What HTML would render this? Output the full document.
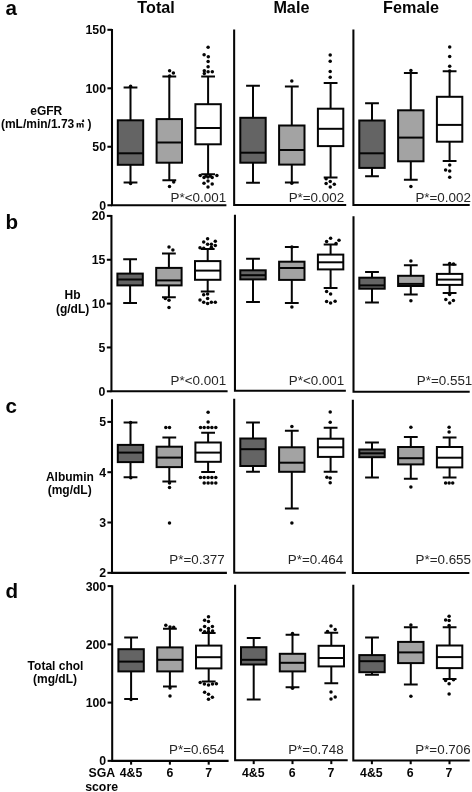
<!DOCTYPE html>
<html lang="en"><head><meta charset="utf-8"><title>Figure</title>
<style>html,body{margin:0;padding:0;background:#fff}body{width:472px;height:792px;overflow:hidden}svg{display:block}</style>
</head><body>
<svg width="472" height="792" viewBox="0 0 472 792">
<rect width="472" height="792" fill="#fff"/>
<g font-family="Liberation Sans, Arial, sans-serif" fill="#050505">
<text x="156.1" y="13.1" font-size="16.2" font-weight="bold" text-anchor="middle">Total</text>
<text x="291.4" y="13.1" font-size="16.2" font-weight="bold" text-anchor="middle">Male</text>
<text x="411" y="13.1" font-size="16.2" font-weight="bold" text-anchor="middle">Female</text>
<text x="5.4" y="14.6" font-size="20.6" font-weight="bold">a</text>
<text x="5.4" y="228.6" font-size="20.6" font-weight="bold">b</text>
<text x="5.4" y="413.3" font-size="20.6" font-weight="bold">c</text>
<text x="5.4" y="598.3" font-size="20.6" font-weight="bold">d</text>
</g>
<g stroke="#050505" stroke-width="2.05" fill="none" stroke-linecap="butt" stroke-linejoin="miter">
<path d="M112.0 28.9V205.25H226.4"/>
<path d="M234.15 29.4V205.05H346.2"/>
<path d="M353.4 29.4V205.0H469.7"/>
<path d="M107.40 29.8H112.0"/>
<path d="M107.40 88.3H112.0"/>
<path d="M107.40 146.75H112.0"/>
<path d="M107.40 205.25H112.0"/>
<path d="M111.45 215.0V391.3H227.6"/>
<path d="M234.95 214.7V390.7H345.85"/>
<path d="M353.5 216.2V391.7H469.7"/>
<path d="M106.85 215.9H111.45"/>
<path d="M106.85 259.75H111.45"/>
<path d="M106.85 303.6H111.45"/>
<path d="M106.85 347.45H111.45"/>
<path d="M106.85 391.3H111.45"/>
<path d="M112.0 399.3V572.85H226.9"/>
<path d="M234.2 398.8V572.7H345.85"/>
<path d="M352.85 399.7V572.9H469.3"/>
<path d="M107.40 421.9H112.0"/>
<path d="M107.40 472.2H112.0"/>
<path d="M107.40 522.5H112.0"/>
<path d="M107.40 572.85H112.0"/>
<path d="M112.2 585.2V760.85H228.6"/>
<path d="M235.1 584.7V760.3H347.7"/>
<path d="M353.3 584.8V760.4H469.7"/>
<path d="M107.60 586.1H112.2"/>
<path d="M107.60 644.35H112.2"/>
<path d="M107.60 702.6H112.2"/>
<path d="M107.60 760.85H112.2"/>
<path d="M131.1 760.85v3.8"/>
<path d="M169.9 760.85v3.8"/>
<path d="M208.7 760.85v3.8"/>
<path d="M253.7 760.3v3.8"/>
<path d="M292.5 760.3v3.8"/>
<path d="M331.3 760.3v3.8"/>
<path d="M371.9 760.4v3.8"/>
<path d="M410.7 760.4v3.8"/>
<path d="M449.5 760.4v3.8"/>
</g>
<g font-family="Liberation Sans, Arial, sans-serif" fill="#050505" font-size="12.3" font-weight="bold" text-anchor="end">
<text x="106.0" y="34.25">150</text>
<text x="106.0" y="92.75">100</text>
<text x="106.0" y="151.2">50</text>
<text x="106.0" y="209.7">0</text>
<text x="105.45" y="220.35">20</text>
<text x="105.45" y="264.2">15</text>
<text x="105.45" y="308.05">10</text>
<text x="105.45" y="351.9">5</text>
<text x="105.45" y="395.75">0</text>
<text x="106.0" y="426.34999999999997">5</text>
<text x="106.0" y="476.65">4</text>
<text x="106.0" y="526.95">3</text>
<text x="106.0" y="577.3000000000001">2</text>
<text x="106.2" y="590.5500000000001">300</text>
<text x="106.2" y="648.8000000000001">200</text>
<text x="106.2" y="707.0500000000001">100</text>
<text x="106.2" y="765.3000000000001">0</text>
</g>
<g font-family="Liberation Sans, Noto Sans CJK KR, Noto Sans CJK JP, Arial, sans-serif" fill="#050505" font-size="12.0" font-weight="bold" text-anchor="middle">
<text x="46.3" y="115.0">eGFR</text>
<text x="0.9" y="128.4" text-anchor="start">(mL/min/1.73</text><text x="75.9" y="127.30000000000001" font-size="8.3" font-weight="900" text-anchor="start">㎡</text><text x="87.4" y="128.4" text-anchor="start">)</text>
<text x="72.6" y="299.0">Hb</text>
<text x="72.6" y="313.0">(g/dL)</text>
<text x="69.9" y="481.2">Albumin</text>
<text x="69.7" y="493.9">(mg/dL)</text>
<text x="55.5" y="670.2">Total chol</text>
<text x="55.0" y="683.2">(mg/dL)</text>
</g>
<g stroke="#050505" stroke-width="2.0">
<path d="M130.5 87.6V120.3M130.5 164.8V182.4M123.6 87.6h13.8M123.6 182.4h13.8" fill="none"/>
<rect x="117.80" y="120.3" width="25.4" height="44.50" fill="#646464"/>
<path d="M117.80 153.3h25.4" fill="none"/>
<path d="M169.3 76.4V119.1M169.3 162.7V180.2M162.4 76.4h13.8M162.4 180.2h13.8" fill="none"/>
<rect x="156.60" y="119.1" width="25.4" height="43.60" fill="#a3a3a3"/>
<path d="M156.60 142.5h25.4" fill="none"/>
<path d="M208.1 76.4V104.2M208.1 144.3V174.3M201.2 76.4h13.8M201.2 174.3h13.8" fill="none"/>
<rect x="195.40" y="104.2" width="25.4" height="40.10" fill="#fff"/>
<path d="M195.40 128.0h25.4" fill="none"/>
<path d="M253.0 85.8V117.8M253.0 162.7V182.8M246.1 85.8h13.8M246.1 182.8h13.8" fill="none"/>
<rect x="240.30" y="117.8" width="25.4" height="44.90" fill="#646464"/>
<path d="M240.30 152.7h25.4" fill="none"/>
<path d="M291.8 86.6V125.5M291.8 164.6V182.5M284.90000000000003 86.6h13.8M284.90000000000003 182.5h13.8" fill="none"/>
<rect x="279.10" y="125.5" width="25.4" height="39.10" fill="#a3a3a3"/>
<path d="M279.10 150.0h25.4" fill="none"/>
<path d="M330.6 83.1V108.7M330.6 146.1V177.5M323.70000000000005 83.1h13.8M323.70000000000005 177.5h13.8" fill="none"/>
<rect x="317.90" y="108.7" width="25.4" height="37.40" fill="#fff"/>
<path d="M317.90 128.8h25.4" fill="none"/>
<path d="M372.0 103.2V120.5M372.0 167.9V176.2M365.1 103.2h13.8M365.1 176.2h13.8" fill="none"/>
<rect x="359.30" y="120.5" width="25.4" height="47.40" fill="#646464"/>
<path d="M359.30 153.3h25.4" fill="none"/>
<path d="M410.8 72.9V110.3M410.8 161.3V179.7M403.90000000000003 72.9h13.8M403.90000000000003 179.7h13.8" fill="none"/>
<rect x="398.10" y="110.3" width="25.4" height="51.00" fill="#a3a3a3"/>
<path d="M398.10 137.6h25.4" fill="none"/>
<path d="M449.6 71.2V96.8M449.6 141.7V161.0M442.70000000000005 71.2h13.8M442.70000000000005 161.0h13.8" fill="none"/>
<rect x="436.90" y="96.8" width="25.4" height="44.90" fill="#fff"/>
<path d="M436.90 124.9h25.4" fill="none"/>
<path d="M130.1 259.3V273.6M130.1 285.4V302.9M123.19999999999999 259.3h13.8M123.19999999999999 302.9h13.8" fill="none"/>
<rect x="117.40" y="273.6" width="25.4" height="11.80" fill="#646464"/>
<path d="M117.40 279.5h25.4" fill="none"/>
<path d="M168.9 253.4V267.9M168.9 285.4V297.3M162.0 253.4h13.8M162.0 297.3h13.8" fill="none"/>
<rect x="156.20" y="267.9" width="25.4" height="17.50" fill="#a3a3a3"/>
<path d="M156.20 280.4h25.4" fill="none"/>
<path d="M207.7 249.0V261.1M207.7 279.8V291.4M200.79999999999998 249.0h13.8M200.79999999999998 291.4h13.8" fill="none"/>
<rect x="195.00" y="261.1" width="25.4" height="18.70" fill="#fff"/>
<path d="M195.00 270.6h25.4" fill="none"/>
<path d="M253.0 258.7V270.3M253.0 279.4V301.9M246.1 258.7h13.8M246.1 301.9h13.8" fill="none"/>
<rect x="240.30" y="270.3" width="25.4" height="9.10" fill="#646464"/>
<path d="M240.30 275.2h25.4" fill="none"/>
<path d="M291.8 246.9V261.7M291.8 279.9V303.0M284.90000000000003 246.9h13.8M284.90000000000003 303.0h13.8" fill="none"/>
<rect x="279.10" y="261.7" width="25.4" height="18.20" fill="#a3a3a3"/>
<path d="M279.10 268.0h25.4" fill="none"/>
<path d="M330.6 244.4V254.6M330.6 269.4V287.9M323.70000000000005 244.4h13.8M323.70000000000005 287.9h13.8" fill="none"/>
<rect x="317.90" y="254.6" width="25.4" height="14.80" fill="#fff"/>
<path d="M317.90 262.3h25.4" fill="none"/>
<path d="M372.0 271.9V277.7M372.0 288.7V302.5M365.1 271.9h13.8M365.1 302.5h13.8" fill="none"/>
<rect x="359.30" y="277.7" width="25.4" height="11.00" fill="#646464"/>
<path d="M359.30 285.4h25.4" fill="none"/>
<path d="M410.8 265.3V275.8M410.8 286.0V294.5M403.90000000000003 265.3h13.8M403.90000000000003 294.5h13.8" fill="none"/>
<rect x="398.10" y="275.8" width="25.4" height="10.20" fill="#a3a3a3"/>
<path d="M398.10 283.9h25.4" fill="none"/>
<path d="M449.6 264.8V273.9M449.6 284.9V293.1M442.70000000000005 264.8h13.8M442.70000000000005 293.1h13.8" fill="none"/>
<rect x="436.90" y="273.9" width="25.4" height="11.00" fill="#fff"/>
<path d="M436.90 279.6h25.4" fill="none"/>
<path d="M130.5 422.6V444.9M130.5 462.1V477.2M123.6 422.6h13.8M123.6 477.2h13.8" fill="none"/>
<rect x="117.80" y="444.9" width="25.4" height="17.20" fill="#646464"/>
<path d="M117.80 452.6h25.4" fill="none"/>
<path d="M169.3 437.5V446.7M169.3 467.1V481.4M162.4 437.5h13.8M162.4 481.4h13.8" fill="none"/>
<rect x="156.60" y="446.7" width="25.4" height="20.40" fill="#a3a3a3"/>
<path d="M156.60 457.6h25.4" fill="none"/>
<path d="M208.1 432.7V442.5M208.1 461.8V471.9M201.2 432.7h13.8M201.2 471.9h13.8" fill="none"/>
<rect x="195.40" y="442.5" width="25.4" height="19.30" fill="#fff"/>
<path d="M195.40 452.6h25.4" fill="none"/>
<path d="M253.0 422.5V438.5M253.0 466.0V471.8M246.1 422.5h13.8M246.1 471.8h13.8" fill="none"/>
<rect x="240.30" y="438.5" width="25.4" height="27.50" fill="#646464"/>
<path d="M240.30 449.2h25.4" fill="none"/>
<path d="M291.8 430.8V447.3M291.8 471.8V508.4M284.90000000000003 430.8h13.8M284.90000000000003 508.4h13.8" fill="none"/>
<rect x="279.10" y="447.3" width="25.4" height="24.50" fill="#a3a3a3"/>
<path d="M279.10 462.7h25.4" fill="none"/>
<path d="M330.6 427.7V438.7M330.6 456.9V471.8M323.70000000000005 427.7h13.8M323.70000000000005 471.8h13.8" fill="none"/>
<rect x="317.90" y="438.7" width="25.4" height="18.20" fill="#fff"/>
<path d="M317.90 447.3h25.4" fill="none"/>
<path d="M372.0 442.6V449.5M372.0 457.2V477.6M365.1 442.6h13.8M365.1 477.6h13.8" fill="none"/>
<rect x="359.30" y="449.5" width="25.4" height="7.70" fill="#646464"/>
<path d="M359.30 453.3h25.4" fill="none"/>
<path d="M410.8 437.1V447.0M410.8 464.4V478.7M403.90000000000003 437.1h13.8M403.90000000000003 478.7h13.8" fill="none"/>
<rect x="398.10" y="447.0" width="25.4" height="17.40" fill="#a3a3a3"/>
<path d="M398.10 458.2h25.4" fill="none"/>
<path d="M449.6 437.6V447.0M449.6 467.4V477.6M442.70000000000005 437.6h13.8M442.70000000000005 477.6h13.8" fill="none"/>
<rect x="436.90" y="447.0" width="25.4" height="20.40" fill="#fff"/>
<path d="M436.90 457.7h25.4" fill="none"/>
<path d="M131.1 637.6V649.2M131.1 671.4V699.0M124.19999999999999 637.6h13.8M124.19999999999999 699.0h13.8" fill="none"/>
<rect x="118.40" y="649.2" width="25.4" height="22.20" fill="#646464"/>
<path d="M118.40 661.6h25.4" fill="none"/>
<path d="M169.9 628.7V647.4M169.9 671.4V686.5M163.0 628.7h13.8M163.0 686.5h13.8" fill="none"/>
<rect x="157.20" y="647.4" width="25.4" height="24.00" fill="#a3a3a3"/>
<path d="M157.20 659.8h25.4" fill="none"/>
<path d="M208.7 633.1V645.6M208.7 668.4V681.5M201.79999999999998 633.1h13.8M201.79999999999998 681.5h13.8" fill="none"/>
<rect x="196.00" y="645.6" width="25.4" height="22.80" fill="#fff"/>
<path d="M196.00 657.2h25.4" fill="none"/>
<path d="M253.7 638.1V647.2M253.7 664.5V699.5M246.79999999999998 638.1h13.8M246.79999999999998 699.5h13.8" fill="none"/>
<rect x="241.00" y="647.2" width="25.4" height="17.30" fill="#646464"/>
<path d="M241.00 659.8h25.4" fill="none"/>
<path d="M292.5 634.7V653.8M292.5 671.4V687.3M285.6 634.7h13.8M285.6 687.3h13.8" fill="none"/>
<rect x="279.80" y="653.8" width="25.4" height="17.60" fill="#a3a3a3"/>
<path d="M279.80 662.8h25.4" fill="none"/>
<path d="M331.3 632.8V645.8M331.3 666.4V683.2M324.40000000000003 632.8h13.8M324.40000000000003 683.2h13.8" fill="none"/>
<rect x="318.60" y="645.8" width="25.4" height="20.60" fill="#fff"/>
<path d="M318.60 658.0h25.4" fill="none"/>
<path d="M372.0 637.5V655.1M372.0 672.2V674.7M365.1 637.5h13.8M365.1 674.7h13.8" fill="none"/>
<rect x="359.30" y="655.1" width="25.4" height="17.10" fill="#646464"/>
<path d="M359.30 661.2h25.4" fill="none"/>
<path d="M410.8 627.3V641.9M410.8 663.1V684.6M403.90000000000003 627.3h13.8M403.90000000000003 684.6h13.8" fill="none"/>
<rect x="398.10" y="641.9" width="25.4" height="21.20" fill="#a3a3a3"/>
<path d="M398.10 652.4h25.4" fill="none"/>
<path d="M449.6 627.3V645.5M449.6 668.1V679.1M442.70000000000005 627.3h13.8M442.70000000000005 679.1h13.8" fill="none"/>
<rect x="436.90" y="645.5" width="25.4" height="22.60" fill="#fff"/>
<path d="M436.90 657.1h25.4" fill="none"/>
</g>
<g fill="#050505">
<circle cx="130.6" cy="86.2" r="1.75"/>
<circle cx="130.6" cy="183.6" r="1.75"/>
<circle cx="169.6" cy="70.7" r="1.75"/>
<circle cx="173.4" cy="73" r="1.75"/>
<circle cx="169.6" cy="76.0" r="1.75"/>
<circle cx="173.7" cy="182" r="1.75"/>
<circle cx="169.5" cy="186.6" r="1.75"/>
<circle cx="208.1" cy="47.2" r="1.75"/>
<circle cx="204.1" cy="54.8" r="1.75"/>
<circle cx="208.3" cy="56.7" r="1.75"/>
<circle cx="208.1" cy="61.6" r="1.75"/>
<circle cx="208.1" cy="66.7" r="1.75"/>
<circle cx="204.3" cy="70.7" r="1.75"/>
<circle cx="208.1" cy="71.8" r="1.75"/>
<circle cx="212.3" cy="71.8" r="1.75"/>
<circle cx="204.3" cy="73.6" r="1.75"/>
<circle cx="200.2" cy="175.4" r="1.75"/>
<circle cx="216.9" cy="175.6" r="1.75"/>
<circle cx="204.0" cy="177.4" r="1.75"/>
<circle cx="208.0" cy="176.9" r="1.75"/>
<circle cx="212.2" cy="177.4" r="1.75"/>
<circle cx="206.0" cy="176.0" r="1.75"/>
<circle cx="210.3" cy="176.0" r="1.75"/>
<circle cx="208" cy="181.1" r="1.75"/>
<circle cx="204" cy="183.2" r="1.75"/>
<circle cx="212.2" cy="184.1" r="1.75"/>
<circle cx="208" cy="186.9" r="1.75"/>
<circle cx="291.8" cy="81.1" r="1.75"/>
<circle cx="291.8" cy="183.2" r="1.75"/>
<circle cx="330.2" cy="55" r="1.75"/>
<circle cx="330.2" cy="61.3" r="1.75"/>
<circle cx="330.2" cy="71.5" r="1.75"/>
<circle cx="330.2" cy="77.3" r="1.75"/>
<circle cx="326.1" cy="178.7" r="1.75"/>
<circle cx="330.25" cy="181.5" r="1.75"/>
<circle cx="326.1" cy="183.6" r="1.75"/>
<circle cx="334.3" cy="184.3" r="1.75"/>
<circle cx="330.25" cy="186.9" r="1.75"/>
<circle cx="410.9" cy="70.4" r="1.75"/>
<circle cx="410.9" cy="186.6" r="1.75"/>
<circle cx="449.7" cy="47" r="1.75"/>
<circle cx="449.7" cy="56.6" r="1.75"/>
<circle cx="449.7" cy="66.3" r="1.75"/>
<circle cx="449.7" cy="71" r="1.75"/>
<circle cx="449.7" cy="165.1" r="1.75"/>
<circle cx="445.6" cy="170.1" r="1.75"/>
<circle cx="449.7" cy="170.9" r="1.75"/>
<circle cx="449.7" cy="177.3" r="1.75"/>
<circle cx="169" cy="246.9" r="1.75"/>
<circle cx="172.9" cy="249.9" r="1.75"/>
<circle cx="165.3" cy="298.6" r="1.75"/>
<circle cx="169" cy="300.3" r="1.75"/>
<circle cx="169" cy="307.5" r="1.75"/>
<circle cx="207.6" cy="238.7" r="1.75"/>
<circle cx="203.7" cy="242.1" r="1.75"/>
<circle cx="215.3" cy="241.3" r="1.75"/>
<circle cx="207.6" cy="244.3" r="1.75"/>
<circle cx="211.4" cy="244.3" r="1.75"/>
<circle cx="215.3" cy="245.5" r="1.75"/>
<circle cx="200" cy="247.7" r="1.75"/>
<circle cx="203.7" cy="248.2" r="1.75"/>
<circle cx="211.4" cy="247.2" r="1.75"/>
<circle cx="203.7" cy="294.7" r="1.75"/>
<circle cx="207.6" cy="294" r="1.75"/>
<circle cx="200" cy="299.9" r="1.75"/>
<circle cx="207.6" cy="298.6" r="1.75"/>
<circle cx="203.7" cy="302.3" r="1.75"/>
<circle cx="207.6" cy="303.6" r="1.75"/>
<circle cx="211.4" cy="302.3" r="1.75"/>
<circle cx="215.3" cy="302.3" r="1.75"/>
<circle cx="291.9" cy="246.9" r="1.75"/>
<circle cx="291.9" cy="306.9" r="1.75"/>
<circle cx="330.6" cy="238.3" r="1.75"/>
<circle cx="326.6" cy="241.6" r="1.75"/>
<circle cx="339.0" cy="240.3" r="1.75"/>
<circle cx="336.0" cy="243.6" r="1.75"/>
<circle cx="326.6" cy="291.4" r="1.75"/>
<circle cx="330.6" cy="294" r="1.75"/>
<circle cx="326.6" cy="301.5" r="1.75"/>
<circle cx="330.6" cy="303.1" r="1.75"/>
<circle cx="335.1" cy="301.2" r="1.75"/>
<circle cx="410.9" cy="260.9" r="1.75"/>
<circle cx="410.9" cy="300.8" r="1.75"/>
<circle cx="449.7" cy="263.4" r="1.75"/>
<circle cx="453.5" cy="264" r="1.75"/>
<circle cx="445.8" cy="299.6" r="1.75"/>
<circle cx="453.4" cy="300.5" r="1.75"/>
<circle cx="449.7" cy="303.0" r="1.75"/>
<circle cx="449.6" cy="294.6" r="1.75"/>
<circle cx="130.6" cy="422.6" r="1.75"/>
<circle cx="130.8" cy="477.8" r="1.75"/>
<circle cx="165.8" cy="427.4" r="1.75"/>
<circle cx="169.5" cy="427.4" r="1.75"/>
<circle cx="169.5" cy="483" r="1.75"/>
<circle cx="169.5" cy="487.5" r="1.75"/>
<circle cx="169.5" cy="522.9" r="1.75"/>
<circle cx="208.1" cy="412.3" r="1.75"/>
<circle cx="208.1" cy="422" r="1.75"/>
<circle cx="200.5" cy="427.4" r="1.75"/>
<circle cx="204.2" cy="427.4" r="1.75"/>
<circle cx="208.1" cy="427.4" r="1.75"/>
<circle cx="211.9" cy="427.4" r="1.75"/>
<circle cx="215.8" cy="427.4" r="1.75"/>
<circle cx="200.5" cy="477.5" r="1.75"/>
<circle cx="204.2" cy="477.5" r="1.75"/>
<circle cx="208.1" cy="477.5" r="1.75"/>
<circle cx="211.9" cy="477.5" r="1.75"/>
<circle cx="215.8" cy="477.5" r="1.75"/>
<circle cx="204.2" cy="483" r="1.75"/>
<circle cx="208.1" cy="483" r="1.75"/>
<circle cx="211.9" cy="483" r="1.75"/>
<circle cx="215.8" cy="483" r="1.75"/>
<circle cx="291.9" cy="426.6" r="1.75"/>
<circle cx="291.9" cy="523" r="1.75"/>
<circle cx="330.2" cy="412" r="1.75"/>
<circle cx="330.2" cy="422.2" r="1.75"/>
<circle cx="326.9" cy="477.3" r="1.75"/>
<circle cx="330.2" cy="478.1" r="1.75"/>
<circle cx="330.2" cy="482.8" r="1.75"/>
<circle cx="410.9" cy="427.2" r="1.75"/>
<circle cx="410.9" cy="486.9" r="1.75"/>
<circle cx="449.1" cy="427.2" r="1.75"/>
<circle cx="449.1" cy="432.1" r="1.75"/>
<circle cx="445.6" cy="483.1" r="1.75"/>
<circle cx="449.1" cy="483.1" r="1.75"/>
<circle cx="452.7" cy="483.1" r="1.75"/>
<circle cx="131.0" cy="699.6" r="1.75"/>
<circle cx="165.8" cy="625.3" r="1.75"/>
<circle cx="170" cy="627" r="1.75"/>
<circle cx="173.7" cy="627.3" r="1.75"/>
<circle cx="170" cy="688" r="1.75"/>
<circle cx="170" cy="696.1" r="1.75"/>
<circle cx="208.5" cy="616.8" r="1.75"/>
<circle cx="204.6" cy="620.2" r="1.75"/>
<circle cx="208.5" cy="621.5" r="1.75"/>
<circle cx="204.6" cy="626.5" r="1.75"/>
<circle cx="208.5" cy="628.5" r="1.75"/>
<circle cx="212.4" cy="626.5" r="1.75"/>
<circle cx="200.6" cy="630.0" r="1.75"/>
<circle cx="204.6" cy="631.8" r="1.75"/>
<circle cx="208.5" cy="631.6" r="1.75"/>
<circle cx="212.6" cy="631.0" r="1.75"/>
<circle cx="200.2" cy="682.6" r="1.75"/>
<circle cx="204.4" cy="683.9" r="1.75"/>
<circle cx="212.5" cy="683.9" r="1.75"/>
<circle cx="216.4" cy="683.7" r="1.75"/>
<circle cx="208.5" cy="685.1" r="1.75"/>
<circle cx="204.6" cy="692.2" r="1.75"/>
<circle cx="208.5" cy="694.2" r="1.75"/>
<circle cx="212.4" cy="697.3" r="1.75"/>
<circle cx="208.5" cy="699.3" r="1.75"/>
<circle cx="292.5" cy="633.6" r="1.75"/>
<circle cx="292.5" cy="688.3" r="1.75"/>
<circle cx="331" cy="626" r="1.75"/>
<circle cx="327.5" cy="631.5" r="1.75"/>
<circle cx="335.2" cy="629.5" r="1.75"/>
<circle cx="331" cy="692" r="1.75"/>
<circle cx="331" cy="698.9" r="1.75"/>
<circle cx="335.2" cy="697" r="1.75"/>
<circle cx="410.9" cy="625.1" r="1.75"/>
<circle cx="410.9" cy="696.2" r="1.75"/>
<circle cx="449.1" cy="616.3" r="1.75"/>
<circle cx="445.6" cy="619.9" r="1.75"/>
<circle cx="449.1" cy="620.4" r="1.75"/>
<circle cx="449.1" cy="625.4" r="1.75"/>
<circle cx="445.6" cy="680.5" r="1.75"/>
<circle cx="449.1" cy="683.8" r="1.75"/>
<circle cx="453.5" cy="679.7" r="1.75"/>
<circle cx="449.1" cy="694" r="1.75"/>
</g>
<g font-family="Liberation Sans, Arial, sans-serif" fill="#262626" font-size="13.4" text-anchor="end">
<text x="226.1" y="201.6">P*&lt;0.001</text>
<text x="344.11" y="201.6">P*=0.002</text>
<text x="470.86" y="201.6">P*=0.002</text>
<text x="226.1" y="384.9">P*&lt;0.001</text>
<text x="344.25" y="384.9">P*&lt;0.001</text>
<text x="472.3" y="384.9">P*=0.551</text>
<text x="224.77" y="563.6">P*=0.377</text>
<text x="343.28000000000003" y="563.6">P*=0.464</text>
<text x="471.0" y="563.6">P*=0.655</text>
<text x="224.5" y="753.65">P*=0.654</text>
<text x="343.61" y="753.65">P*=0.748</text>
<text x="470.71" y="753.65">P*=0.706</text>
</g>
<g font-family="Liberation Sans, Arial, sans-serif" fill="#050505" font-size="12.3" font-weight="bold" text-anchor="middle">
<text x="131.0" y="776.6">4&amp;5</text>
<text x="169.8" y="776.6">6</text>
<text x="208.6" y="776.6">7</text>
<text x="253.3" y="776.6">4&amp;5</text>
<text x="292.1" y="776.6">6</text>
<text x="330.90000000000003" y="776.6">7</text>
<text x="371.4" y="776.6">4&amp;5</text>
<text x="410.2" y="776.6">6</text>
<text x="449.0" y="776.6">7</text>
<text x="88.5" y="776.6" text-anchor="start">SGA</text>
<text x="85.2" y="790.8" text-anchor="start">score</text>
</g>
</svg>
</body></html>
